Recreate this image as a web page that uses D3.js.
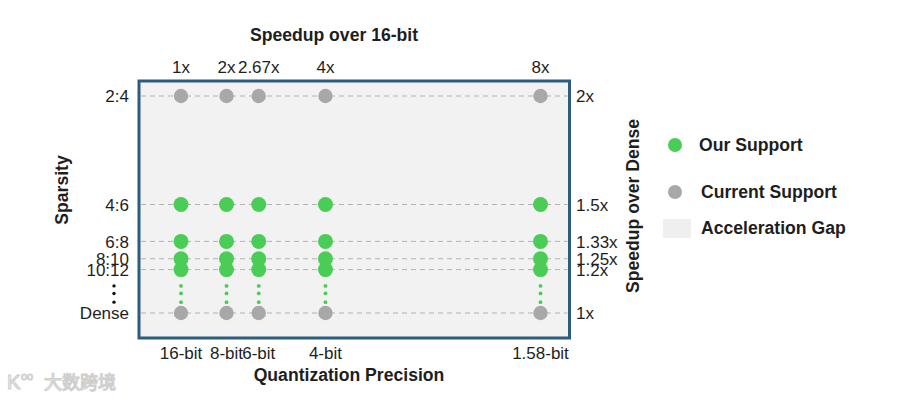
<!DOCTYPE html>
<html>
<head>
<meta charset="utf-8">
<script src="https://cdn.jsdelivr.net/npm/d3@7"></script>
<style>
  html, body { margin: 0; padding: 0; background: #fff; }
  svg { display: block; font-family: "Liberation Sans", Arial, Helvetica, sans-serif; }
</style>
</head>
<body>
<svg id="chart" width="900" height="402"></svg>
<script>
// ---- data ----
const precisionLabels = ["16-bit", "8-bit", "6-bit", "4-bit", "1.58-bit"];
const precisionSpeedup = [1, 2, 2.67, 4, 8];
const precisionSpeedupLabels = ["1x", "2x", "2.67x", "4x", "8x"];

const sparsityLabels = ["2:4", "4:6", "6:8", "8:10", "10:12", "Dense"];
const sparsitySpeedup = [2, 1.5, 1.33, 1.25, 1.2, 1];
const sparsitySpeedupLabels = ["2x", "1.5x", "1.33x", "1.25x", "1.2x", "1x"];

const currentSupport = ["2:4", "Dense"];
const ourSupport = ["4:6", "6:8", "8:10", "10:12"];

// connector dots between 10:12 and Dense (in "speedup over dense" units)
const gapDots = [1.125, 1.09, 1.05];

const legendItems = [
  { label: "Our Support", type: "green" },
  { label: "Current Support", type: "gray" },
  { label: "Acceleration Gap", type: "rect" }
];

// ---- styles ----
const GREEN = "#4acd56";
const GRAY = "#a8a8a8";
const BOX_FILL = "#f2f2f2";
const BOX_STROKE = "#2d5d7c";
const TEXT = "#1e1e1e";
const TICK_FS = 17;
const BOLD_FS = 17.6;

const svg = d3.select("#chart");

const box = { x: 139, y: 81, w: 430.5, h: 257 };

const x = d3.scalePow().exponent(1.12)
  .domain([1, 8])
  .range([box.x + 42, box.x + box.w - 29]);

const y = d3.scaleLinear()
  .domain([1, 2])
  .range([box.y + 232, box.y + 15]);

// plot box
svg.append("rect")
  .attr("x", box.x).attr("y", box.y)
  .attr("width", box.w).attr("height", box.h)
  .attr("fill", BOX_FILL)
  .attr("stroke", BOX_STROKE)
  .attr("stroke-width", 3);

// dashed grid lines per sparsity row
svg.append("g").selectAll("line")
  .data(sparsitySpeedup)
  .join("line")
  .attr("x1", box.x + 2).attr("x2", box.x + box.w - 2)
  .attr("y1", d => y(d)).attr("y2", d => y(d))
  .attr("stroke", "#b2b2b2")
  .attr("stroke-width", 1)
  .attr("stroke-dasharray", "5,4");

// connector dots
const gdots = [];
precisionSpeedup.forEach(p => gapDots.forEach(g => gdots.push({ p, g })));
svg.append("g").selectAll("circle")
  .data(gdots)
  .join("circle")
  .attr("cx", d => x(d.p))
  .attr("cy", d => y(d.g))
  .attr("r", 1.9)
  .attr("fill", GREEN);

// points
const points = [];
sparsityLabels.forEach((s, i) => {
  precisionSpeedup.forEach((p, j) => {
    let type = null;
    if (currentSupport.includes(s)) type = "gray";
    else if (ourSupport.includes(s)) type = "green";
    if (type) points.push({ s, sp: sparsitySpeedup[i], p, type });
  });
});
svg.append("g").selectAll("circle")
  .data(points)
  .join("circle")
  .attr("cx", d => x(d.p))
  .attr("cy", d => y(d.sp))
  .attr("r", d => d.type === "green" ? 7.5 : 7.2)
  .attr("fill", d => d.type === "green" ? GREEN : GRAY);

// top axis labels (speedup over 16-bit)
svg.append("g").selectAll("text")
  .data(precisionSpeedup)
  .join("text")
  .attr("x", d => x(d))
  .attr("y", 73)
  .attr("text-anchor", "middle")
  .attr("font-size", TICK_FS)
  .attr("fill", TEXT)
  .text((d, i) => precisionSpeedupLabels[i]);

svg.append("text")
  .attr("x", 334).attr("y", 41)
  .attr("text-anchor", "middle")
  .attr("font-size", BOLD_FS)
  .attr("font-weight", "bold")
  .attr("fill", TEXT)
  .text("Speedup over 16-bit");

// bottom axis labels (precision)
svg.append("g").selectAll("text")
  .data(precisionSpeedup)
  .join("text")
  .attr("x", d => x(d))
  .attr("y", 359)
  .attr("text-anchor", "middle")
  .attr("font-size", TICK_FS)
  .attr("fill", TEXT)
  .text((d, i) => precisionLabels[i]);

svg.append("text")
  .attr("x", 349).attr("y", 381)
  .attr("text-anchor", "middle")
  .attr("font-size", BOLD_FS)
  .attr("font-weight", "bold")
  .attr("fill", TEXT)
  .text("Quantization Precision");

// left labels (sparsity)
svg.append("g").selectAll("text")
  .data(sparsitySpeedup)
  .join("text")
  .attr("x", 129)
  .attr("y", d => y(d))
  .attr("dy", "0.36em")
  .attr("text-anchor", "end")
  .attr("font-size", TICK_FS)
  .attr("fill", TEXT)
  .text((d, i) => sparsityLabels[i]);

// vertical ellipsis on the left
svg.append("g").selectAll("circle")
  .data(gapDots)
  .join("circle")
  .attr("cx", 114)
  .attr("cy", d => y(d))
  .attr("r", 1.7)
  .attr("fill", "#111");

svg.append("text")
  .attr("transform", "translate(68,190) rotate(-90)")
  .attr("text-anchor", "middle")
  .attr("font-size", BOLD_FS)
  .attr("font-weight", "bold")
  .attr("fill", TEXT)
  .text("Sparsity");

// right labels (speedup over dense)
svg.append("g").selectAll("text")
  .data(sparsitySpeedup)
  .join("text")
  .attr("x", 576)
  .attr("y", d => y(d))
  .attr("dy", "0.36em")
  .attr("text-anchor", "start")
  .attr("font-size", TICK_FS)
  .attr("fill", TEXT)
  .text((d, i) => sparsitySpeedupLabels[i]);

svg.append("text")
  .attr("transform", "translate(639,206) rotate(-90)")
  .attr("text-anchor", "middle")
  .attr("font-size", BOLD_FS)
  .attr("font-weight", "bold")
  .attr("fill", TEXT)
  .text("Speedup over Dense");

// legend
const legendY = [145, 192, 228];
const lg = svg.append("g").selectAll("g")
  .data(legendItems)
  .join("g")
  .attr("transform", (d, i) => `translate(0,${legendY[i]})`);
lg.each(function (d) {
  const g = d3.select(this);
  if (d.type === "rect") {
    g.append("rect").attr("x", 663).attr("y", -9).attr("width", 28).attr("height", 19)
      .attr("fill", "#efefef");
  } else {
    g.append("circle").attr("cx", 675).attr("cy", 0).attr("r", 7)
      .attr("fill", d.type === "green" ? GREEN : GRAY);
  }
});
lg.append("text")
  .attr("x", d => d.type === "green" ? 699 : 701)
  .attr("y", 0)
  .attr("dy", "0.36em")
  .attr("font-size", BOLD_FS)
  .attr("font-weight", "bold")
  .attr("fill", TEXT)
  .text(d => d.label);

// watermark
const wm = svg.append("g");
wm.append("text")
  .attr("x", 7).attr("y", 389)
  .attr("font-size", 20)
  .attr("fill", "#fff")
  .attr("stroke", "#cfcfcf")
  .attr("stroke-width", 1.2)
  .text("K");
wm.append("text")
  .attr("x", 21).attr("y", 380)
  .attr("font-size", 11)
  .attr("fill", "#fff")
  .attr("stroke", "#cfcfcf")
  .attr("stroke-width", 1)
  .text("oo");
wm.append("text")
  .attr("x", 44).attr("y", 389)
  .attr("font-size", 18)
  .attr("font-family", "Noto Sans CJK SC")
  .attr("fill", "#fff")
  .attr("stroke", "#cfcfcf")
  .attr("stroke-width", 1.2)
  .text("大数跨境");
</script>
</body>
</html>
